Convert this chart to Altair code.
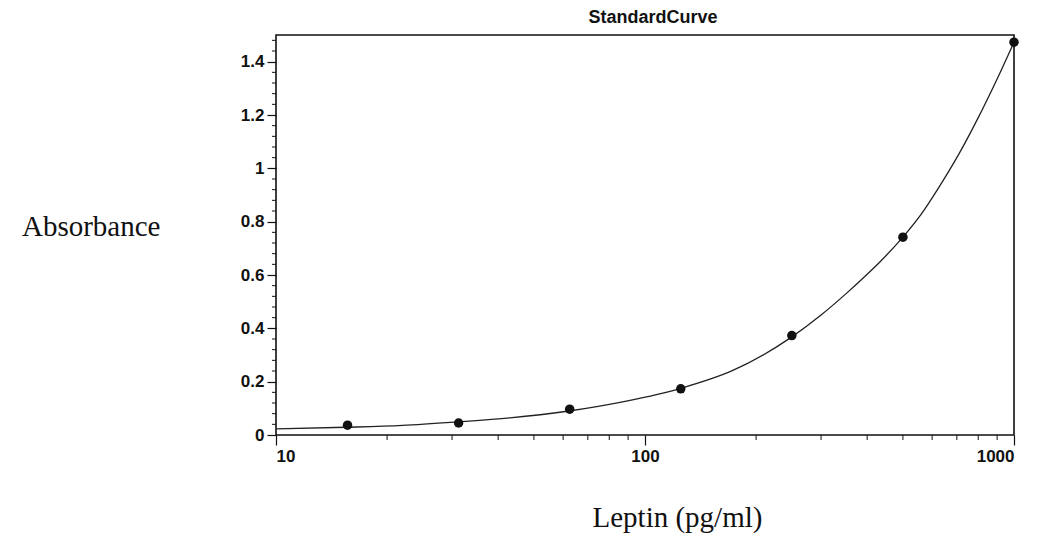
import altair as alt
import pandas as pd

# Standard points (Leptin concentration pg/ml vs absorbance)
conc = [15.625, 31.25, 62.5, 125, 250, 500, 1000]
absorbance = [0.037, 0.045, 0.097, 0.173, 0.373, 0.742, 1.473]

# Fitted standard curve
curve_conc = [10, 15.5, 22, 31, 43, 61.5, 89, 125, 173, 250, 300, 352, 400, 433,
              500, 560, 630, 710, 800, 900, 1000]
curve_abs = [0.023, 0.029, 0.036, 0.049, 0.064, 0.089, 0.127, 0.175, 0.242, 0.368,
             0.45, 0.532, 0.603, 0.649, 0.742, 0.827, 0.935, 1.055, 1.19, 1.335, 1.473]

# Axis ticks
x_major = [10, 100, 1000]
x_minor = [20, 30, 40, 50, 60, 70, 80, 90, 200, 300, 400, 500, 600, 700, 800, 900]
y_major = [0, 0.2, 0.4, 0.6, 0.8, 1.0, 1.2, 1.4]
y_minor = [0.04, 0.08, 0.12, 0.16, 0.24, 0.28, 0.32, 0.36, 0.44, 0.48, 0.52, 0.56,
           0.64, 0.68, 0.72, 0.76, 0.84, 0.88, 0.92, 0.96, 1.04, 1.08, 1.12, 1.16,
           1.24, 1.28, 1.32, 1.36, 1.44, 1.48]

chart_title = ["StandardCurve"]

INK = "#111111"
W, H = 738, 400

df_pts = pd.DataFrame({"x": conc, "y": absorbance})
df_curve = pd.DataFrame({"x": curve_conc, "y": curve_abs})
df_xminor = pd.DataFrame({"x": x_minor})
df_yminor = pd.DataFrame({"y": y_minor})
df_title = pd.DataFrame({"t": chart_title})

x_scale = alt.Scale(type="log", domain=[10, 1000], nice=False)
y_scale = alt.Scale(domain=[0, 1.5], nice=False, zero=False)

x_axis = alt.Axis(
    values=x_major, format="d", tickSize=10, tickColor=INK, tickWidth=1.2,
    domain=False, grid=False, labelPadding=3,
    title="Leptin (pg/ml)", titleFont="Liberation Serif", titleFontSize=29,
    titleFontWeight="normal", titleColor=INK, titleAlign="left",
    titleAnchor="start", titleX=316, titleY=91, titleBaseline="alphabetic",
)
y_axis = alt.Axis(
    values=y_major, format="~g", tickSize=9, tickColor=INK, tickWidth=1.2,
    domain=False, grid=False, labelPadding=3,
    title="Absorbance", titleFont="Liberation Serif", titleFontSize=29,
    titleFontWeight="normal", titleColor=INK, titleAngle=0, titleAlign="right",
    titleX=-116, titleY=200, titleBaseline="alphabetic",
)

X = alt.X("x:Q", scale=x_scale, axis=x_axis)
Y = alt.Y("y:Q", scale=y_scale, axis=y_axis)

xminor = alt.Chart(df_xminor).mark_rule(color=INK, strokeWidth=1).encode(
    X, y=alt.value(H), y2=alt.value(H + 5)
)
yminor = alt.Chart(df_yminor).mark_rule(color=INK, strokeWidth=1).encode(
    Y, x=alt.value(0), x2=alt.value(-4)
)
curve = alt.Chart(df_curve).mark_line(
    interpolate="monotone", color="#222222", strokeWidth=1.3
).encode(X, Y)
pts = alt.Chart(df_pts).mark_point(
    filled=True, size=90, color=INK, opacity=1
).encode(X, Y)
title = alt.Chart(df_title).mark_text(
    font="Liberation Sans", fontSize=18, fontWeight="bold", color=INK,
    align="center", baseline="alphabetic",
).encode(text="t:N", x=alt.value(W / 2 + 8), y=alt.value(-12))

chart = (
    alt.layer(xminor, yminor, curve, pts, title)
    .properties(
        width=W,
        height=H,
        padding={"left": 268, "top": 27, "right": 17, "bottom": 100},
        autosize=alt.AutoSizeParams(type="none"),
    )
    .configure_view(stroke=INK, strokeWidth=1.6)
    .configure_axis(
        labelFont="Liberation Sans", labelFontSize=17, labelFontWeight="bold",
        labelColor=INK,
    )
)

chart.save("out.html", embed_options={"renderer": "svg", "actions": False})
